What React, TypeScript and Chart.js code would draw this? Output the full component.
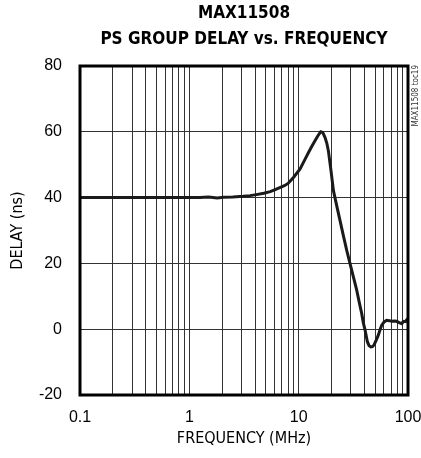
import React, { useEffect, useRef } from "react";
import { Chart, registerables } from "chart.js";

Chart.register(...registerables);

const COND = '"DejaVu Sans Condensed", "Liberation Sans Narrow", sans-serif';
const SANS = '"Liberation Sans", Arial, sans-serif';

// ---- data ----
const freqMHz = [
  0.1, 0.2, 0.5, 1, 1.25, 1.5, 1.8, 2.05, 2.5, 3.1, 3.6, 4.1, 4.8, 5.5, 6.1, 6.8, 7.4, 8.0, 9.0,
  10.3, 11.3, 12.3, 13.2, 14.1, 15.0, 15.9, 16.6, 17.4, 18.1, 18.7, 19.7, 20.8, 22.3, 23.9, 25.6,
  27.5, 29.5, 31.7, 34.0, 35.8, 37.7, 39.0, 40.5, 42.5, 44.0, 45.6, 47.2, 48.9, 51.0, 53.5, 55.5,
  57.5, 60.5, 63.8, 67.5, 71, 75, 78.8, 83, 87.6, 90, 91.9, 95, 97.3, 100,
];
const delayNs = [
  40, 40, 40, 40, 40, 40.2, 39.9, 40.1, 40.2, 40.4, 40.6, 40.9, 41.3, 41.8, 42.4, 43.1, 43.6, 44.3, 46.2,
  48.7, 51.3, 53.7, 55.6, 57.3, 58.8, 60.0, 59.8, 58.3, 56.5, 54.2, 48.5, 42.1, 37.5, 33, 28.5,
  24, 19.9, 15.8, 11.8, 8.2, 4.8, 2.0, -0.3, -3.8, -5.0, -5.4, -5.3, -4.8, -3.5, -1.8, -0.2,
  1.2, 2.2, 2.7, 2.6, 2.4, 2.5, 2.4, 2.0, 1.7, 2.2, 2.4, 2.3, 2.9, 3.2,
];
const xGridTicks = [
  0.1, 0.2, 0.3, 0.4, 0.5, 0.6, 0.7, 0.8, 0.9,
  1, 2, 3, 4, 5, 6, 7, 8, 9,
  10, 20, 30, 40, 50, 60, 70, 80, 90, 100,
];
const xLabelTicks = [0.1, 1, 10, 100];
const yTicks = [-20, 0, 20, 40, 60, 80];
const titleLines = ["MAX11508", "PS GROUP DELAY vs. FREQUENCY"];
const xTitle = "FREQUENCY (MHz)";
const yTitle = "DELAY (ns)";
const sideNote = "MAX11508 toc19";

const W = 421;
const H = 458;

const framePlugin = {
  id: "frame",
  afterDraw(chart: any) {
    const { ctx, chartArea } = chart;
    ctx.save();
    ctx.strokeStyle = "#000";
    ctx.lineWidth = 3;
    ctx.strokeRect(chartArea.left, chartArea.top, chartArea.right - chartArea.left, chartArea.bottom - chartArea.top);
    ctx.translate(416, chartArea.top - 1);
    ctx.rotate(-Math.PI / 2);
    ctx.fillStyle = "#333";
    ctx.font = `8px ${COND}`;
    ctx.textAlign = "right";
    ctx.textBaseline = "middle";
    ctx.fillText(sideNote, 0, 0);
    ctx.restore();
  },
};

export default function App() {
  const ref = useRef<HTMLCanvasElement | null>(null);
  useEffect(() => {
    if (!ref.current) return;
    const chart = new Chart(ref.current, {
      type: "line",
      data: {
        datasets: [
          {
            data: freqMHz.map((f, i) => ({ x: f, y: delayNs[i] })),
            borderColor: "#1a1a1a",
            borderWidth: 3,
            pointRadius: 0,
            tension: 0,
            fill: false,
          },
        ],
      },
      options: {
        animation: false,
        responsive: false,
        devicePixelRatio: 1,
        layout: { padding: { left: 0, right: 0, top: 0, bottom: 0 } },
        plugins: {
          legend: { display: false },
          tooltip: { enabled: false },
          title: {
            display: true,
            fullSize: false,
            text: titleLines,
            color: "#000",
            font: { family: COND, size: 17, weight: "bold", lineHeight: 1.5 },
            padding: { top: 1, bottom: 14 },
          },
        },
        scales: {
          x: {
            type: "logarithmic",
            min: 0.1,
            max: 100,
            afterBuildTicks: (scale: any) => {
              scale.ticks = xGridTicks.map((v) => ({ value: v }));
            },
            afterFit: (scale: any) => {
              scale.height = 63;
              scale.paddingRight = 13;
              scale.paddingLeft = 0;
            },
            ticks: {
              autoSkip: false,
              maxRotation: 0,
              padding: 13,
              color: "#000",
              font: { family: SANS, size: 16 },
              callback: (value: any) => (xLabelTicks.includes(Number(value)) ? String(value) : ""),
            },
            grid: { color: "#333", lineWidth: 1, drawTicks: false },
            border: { display: false },
            title: {
              display: true,
              text: xTitle,
              color: "#000",
              font: { family: COND, size: 16 },
              padding: { top: 0, bottom: 10 },
            },
          },
          y: {
            type: "linear",
            min: -20,
            max: 80,
            afterBuildTicks: (scale: any) => {
              scale.ticks = yTicks.map((v) => ({ value: v }));
            },
            afterFit: (scale: any) => {
              scale.width = 80;
            },
            ticks: {
              padding: 18,
              color: "#000",
              font: { family: SANS, size: 16 },
            },
            grid: { color: "#333", lineWidth: 1, drawTicks: false },
            border: { display: false },
            title: {
              display: true,
              text: yTitle,
              color: "#000",
              font: { family: COND, size: 16 },
              padding: { top: 8, bottom: 0 },
            },
          },
        },
      },
      plugins: [framePlugin],
    });
    return () => chart.destroy();
  }, []);
  return (
    <div style={{ position: "fixed", left: 0, top: 0, width: W, height: H, background: "#fff" }}>
      <canvas ref={ref} width={W} height={H} style={{ width: W, height: H, display: "block" }} />
    </div>
  );
}
